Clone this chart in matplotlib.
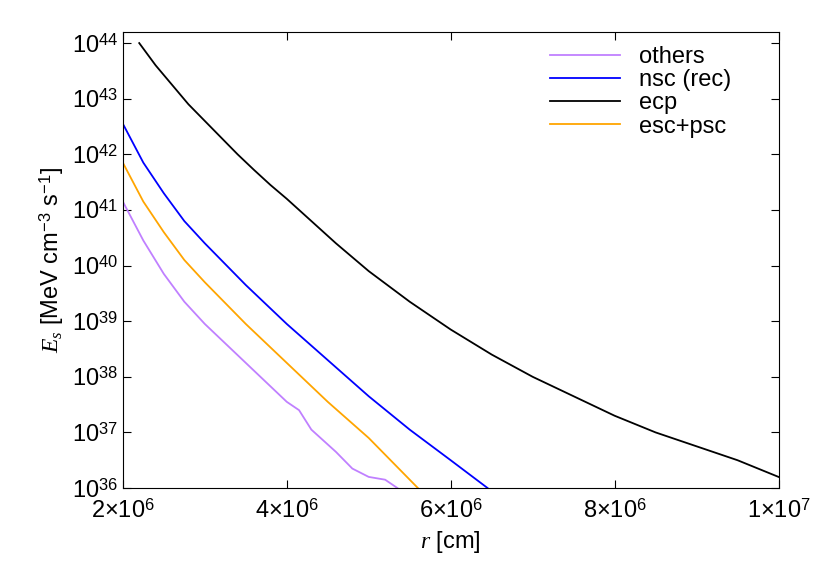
import numpy as np
import matplotlib
matplotlib.use("Agg")
import matplotlib.pyplot as plt
from matplotlib.ticker import FixedLocator, FixedFormatter

plt.rcParams['font.family'] = 'Liberation Sans'
plt.rcParams['mathtext.fontset'] = 'custom'
plt.rcParams['mathtext.rm'] = 'Liberation Sans'
plt.rcParams['mathtext.it'] = 'Liberation Serif:italic'

r_ecp = [2.2e6, 2.4e6, 2.6e6, 2.8e6, 3.0e6, 3.2e6, 3.4e6, 3.6e6, 3.8e6, 4.0e6, 4.3e6, 4.6e6, 5.0e6, 5.5e6, 6.0e6, 6.5e6, 7.0e6, 7.5e6, 8.0e6, 8.5e6, 9.0e6, 9.5e6, 1.0e7]
E_ecp = [44.0, 43.6, 43.25, 42.9, 42.6, 42.3, 42.0, 41.72, 41.45, 41.2, 40.8, 40.4, 39.9, 39.35, 38.85, 38.4, 38.0, 37.65, 37.3, 37.0, 36.75, 36.5, 36.2]
r_nsc = [2.0e6, 2.25e6, 2.5e6, 2.75e6, 3.0e6, 3.5e6, 4.0e6, 4.5e6, 5.0e6, 5.5e6, 6.0e6, 6.45e6]
E_nsc = [42.55, 41.85, 41.3, 40.8, 40.4, 39.65, 38.95, 38.3, 37.65, 37.05, 36.5, 36.0]
r_esc = [2.0e6, 2.25e6, 2.5e6, 2.75e6, 3.0e6, 3.5e6, 4.0e6, 4.5e6, 5.0e6, 5.3e6, 5.6e6]
E_esc = [41.85, 41.15, 40.6, 40.1, 39.7, 38.95, 38.25, 37.55, 36.9, 36.45, 36.0]
r_oth = [2.0e6, 2.25e6, 2.5e6, 2.75e6, 3.0e6, 3.5e6, 4.0e6, 4.15e6, 4.3e6, 4.6e6, 4.8e6, 5.0e6, 5.2e6, 5.35e6]
E_oth = [41.15, 40.45, 39.85, 39.35, 38.95, 38.25, 37.55, 37.4, 37.05, 36.65, 36.35, 36.2, 36.15, 36.0]

fig = plt.figure(figsize=(8.3, 5.81), dpi=100)
ax = fig.add_axes([0.148, 0.16, 0.79, 0.785])
ax.plot(r_oth, 10**np.array(E_oth), color='#c080ff', lw=1.3, label='others')
ax.plot(r_nsc, 10**np.array(E_nsc), color='#0000ff', lw=1.3, label='nsc (rec)')
ax.plot(r_ecp, 10**np.array(E_ecp), color='black', lw=1.3, label='ecp')
ax.plot(r_esc, 10**np.array(E_esc), color='#ffa500', lw=1.3, label='esc+psc')
ax.set_yscale('log')
ax.set_xlim(2e6, 1e7)
ax.set_ylim(1e36, 10**44.2)
ax.yaxis.set_major_locator(FixedLocator([10.0**k for k in range(36, 45)]))
ax.yaxis.set_major_formatter(FixedFormatter([r'$10^{%d}$' % k for k in range(36, 45)]))
ax.yaxis.set_minor_locator(FixedLocator([]))
xt = [2e6, 4e6, 6e6, 8e6, 1e7]
ax.set_xticks(xt)
ax.set_xticklabels([r'2$\times$10$^6$', r'4$\times$10$^6$', r'6$\times$10$^6$', r'8$\times$10$^6$', r'1$\times$10$^7$'])
ax.tick_params(labelsize=17, direction='in', which='both', top=True, right=True, length=6)
ax.tick_params(axis='x', pad=8)
ax.set_xlabel(r'$r$ [cm]', fontsize=17)
ax.set_ylabel(r'$E_s$ [MeV cm$^{-3}$ s$^{-1}$]', fontsize=17)
ax.legend(loc='upper right', frameon=False, fontsize=17, handlelength=3.0, labelspacing=0.05,
          borderaxespad=0.2, bbox_to_anchor=(0.95, 1.0))
fig.savefig('out.png', dpi=100)
